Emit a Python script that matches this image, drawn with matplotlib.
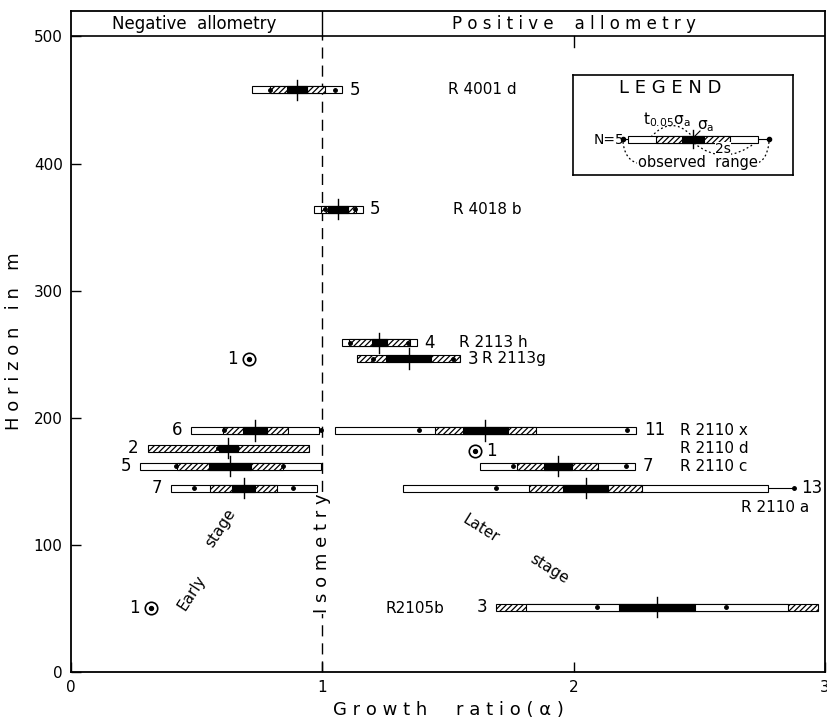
import matplotlib

matplotlib.use("Agg")
import matplotlib.pyplot as plt
from matplotlib.patches import PathPatch, Rectangle
from matplotlib.path import Path

plt.rcParams["font.family"] = ["DejaVu Sans"]
plt.rcParams["mathtext.default"] = "regular"
plt.rcParams["hatch.linewidth"] = 0.9

# samples with N > 1 (one bar each): horizon, mean alpha and the half widths
bar_y = [458, 364, 259, 246.5, 190, 190, 176, 162, 162, 144.5, 144.5, 51]
bar_mean = [0.90, 1.064, 1.227, 1.343, 0.733, 1.649, 0.625, 0.633, 1.936, 0.687, 2.048, 2.331]
bar_sigma = [0.04, 0.04, 0.03, 0.09, 0.048, 0.088, 0.038, 0.084, 0.056, 0.047, 0.09, 0.15]
bar_conf = [0.11, 0.07, 0.12, 0.205, 0.13, 0.20, 0.32, 0.21, 0.16, 0.133, 0.225, 0.64]
bar_spread = [0.178, 0.096, 0.15, 0.0, 0.255, 0.60, 0.0, 0.36, 0.31, 0.29, 0.727, 0.52]
range_lo = [0.79, 1.012, 1.11, 1.20, 0.61, 1.386, 0.586, 0.418, 1.757, 0.49, 1.689, 2.092]
range_hi = [1.05, 1.13, 1.34, 1.52, 0.996, 2.211, 0.661, 0.845, 2.207, 0.885, 2.876, 2.606]
bar_n = [5, 5, 4, 3, 6, 11, 2, 5, 7, 7, 13, 3]
n_side = ["r", "r", "r", "r", "l", "r", "l", "l", "r", "l", "r", "l"]

# single specimens (N = 1)
single_x = [0.71, 1.606, 0.32]
single_y = [246.5, 174, 50]
single_side = ["l", "r", "l"]

# sample names and where they are written
names = ["R 4001 d", "R 4018 b", "R 2113 h", "R 2113g", "R 2110 x",
         "R 2110 d", "R 2110 c", "R 2110 a", "R2105b"]
name_x = [1.50, 1.52, 1.545, 1.635, 2.425, 2.425, 2.425, 2.665, 1.25]
name_y = [458, 364, 259, 246.5, 190, 176, 162, 129.5, 50]


def draw_bar(ax, y, m, sig, conf, spread, lo, hi, h=5.5, tick=8, ms=2.5):
    outer = max(conf, spread)
    if lo < m - outer:
        ax.plot([lo, m - outer], [y, y], color="black", lw=0.8, zorder=3)
    if hi > m + outer:
        ax.plot([m + outer, hi], [y, y], color="black", lw=0.8, zorder=3)
    layers = sorted([(conf, "h"), (spread, "w")], reverse=True)
    for half, kind in layers:
        if half <= 0:
            continue
        ax.add_patch(Rectangle((m - half, y - h / 2), 2 * half, h,
                               facecolor="white", edgecolor="black", lw=0.8,
                               hatch="//////" if kind == "h" else None, zorder=3))
    ax.add_patch(Rectangle((m - sig, y - h / 2), 2 * sig, h,
                           facecolor="black", edgecolor="black", lw=0.8, zorder=4))
    ax.plot([m, m], [y - tick, y + tick], color="black", lw=1.0, zorder=5)
    ax.plot([lo, hi], [y, y], "o", ms=ms, color="black", zorder=5)
    return m - outer, m + outer


fig = plt.figure(figsize=(8.28, 7.22), dpi=100)
ax = fig.add_axes([71 / 828, 50 / 722, 754 / 828, 661 / 722])
ax.set_xlim(0, 3)
ax.set_ylim(0, 520)
ax.set_xticks([0, 1, 2, 3])
ax.set_yticks([0, 100, 200, 300, 400, 500])
ax.tick_params(direction="in", length=7, width=1, labelsize=11, pad=6)
for sp in ax.spines.values():
    sp.set_linewidth(1.3)

# header band and isometry line
ax.axhline(500, color="black", lw=1.2)
ax.plot([1, 1], [500, 520], color="black", lw=1.0)
ax.plot([1, 1], [0, 500], color="black", lw=1.0, dashes=(8, 5), zorder=1)
ax.plot([2, 2], [500, 492], color="black", lw=1.0)
ax.text(0.49, 510, "Negative  allometry", ha="center", va="center", fontsize=12)
ax.text(2.0, 510, "P o s i t i v e    a l l o m e t r y", ha="center", va="center", fontsize=12)

for i in range(len(bar_y)):
    left, right = draw_bar(ax, bar_y[i], bar_mean[i], bar_sigma[i], bar_conf[i],
                           bar_spread[i], range_lo[i], range_hi[i])
    right = max(right, range_hi[i])
    if n_side[i] == "r":
        ax.text(right + 0.03, bar_y[i], str(bar_n[i]), ha="left", va="center", fontsize=12)
    else:
        ax.text(left - 0.035, bar_y[i], str(bar_n[i]), ha="right", va="center", fontsize=12)

ax.scatter(single_x, single_y, s=80, facecolor="white", edgecolor="black", lw=1.2, zorder=5)
ax.scatter(single_x, single_y, s=8, color="black", zorder=6)
for x, y, side in zip(single_x, single_y, single_side):
    if side == "r":
        ax.text(x + 0.045, y, "1", ha="left", va="center", fontsize=12)
    else:
        ax.text(x - 0.045, y, "1", ha="right", va="center", fontsize=12)

for name, x, y in zip(names, name_x, name_y):
    ax.text(x, y, name, ha="left", va="center", fontsize=11)

ax.text(1.0, 93.5, "I s o m e t r y", rotation=90, ha="center", va="center", fontsize=13,
        bbox=dict(facecolor="white", edgecolor="none", pad=0.5), zorder=2)
ax.text(0.482, 62, "Early", rotation=57, ha="center", va="center", fontsize=11)
ax.text(0.594, 113, "stage", rotation=57, ha="center", va="center", fontsize=11)
ax.text(1.63, 113, "Later", rotation=-32, ha="center", va="center", fontsize=11)
ax.text(1.904, 81, "stage", rotation=-32, ha="center", va="center", fontsize=11)

ax.set_xlabel("G r o w t h     r a t i o ( \u03b1 )", fontsize=13, labelpad=4)
ax.set_ylabel("H o r i z o n   i n   m", fontsize=13, labelpad=8)

# legend box, drawn in its own pixel-like coordinates
lax = fig.add_axes([573 / 828, (722 - 175) / 722, 220 / 828, 100 / 722])
lax.set_xlim(0, 220)
lax.set_ylim(100, 0)
lax.set_xticks([])
lax.set_yticks([])
for sp in lax.spines.values():
    sp.set_linewidth(1.2)
lax.text(97, 13, "L E G E N D", ha="center", va="center", fontsize=13)
draw_bar(lax, 64, 120, 11, 37, 65, 50, 196, h=7, tick=9, ms=3)
lax.text(36, 65, "N=5", ha="center", va="center", fontsize=10)
lax.text(94, 45, r"$t_{0.05}\sigma_a$", ha="center", va="center", fontsize=11)
lax.text(133, 51, r"$\sigma_a$", ha="center", va="center", fontsize=11)
lax.text(125, 88, "observed  range", ha="center", va="center", fontsize=10.5,
         bbox=dict(facecolor="white", edgecolor="none", pad=0.5))
lax.text(150, 74, "2s", ha="center", va="center", fontsize=10,
         bbox=dict(facecolor="white", edgecolor="none", pad=0.2), zorder=6)
curves = [
    [(50, 67), (52, 88), (70, 89)],
    [(196, 67), (194, 88), (180, 89)],
    [(78, 62), (98, 40), (118, 60)],
    [(121, 68), (150, 92), (182, 68)],
]
for pts in curves:
    lax.add_patch(PathPatch(Path(pts, [Path.MOVETO, Path.CURVE3, Path.CURVE3]),
                            facecolor="none", edgecolor="black", lw=0.9,
                            linestyle=(0, (1.5, 2)), zorder=2))
lax.plot([127, 122], [56, 61], color="black", lw=0.8)

fig.savefig("out.png", dpi=100)
